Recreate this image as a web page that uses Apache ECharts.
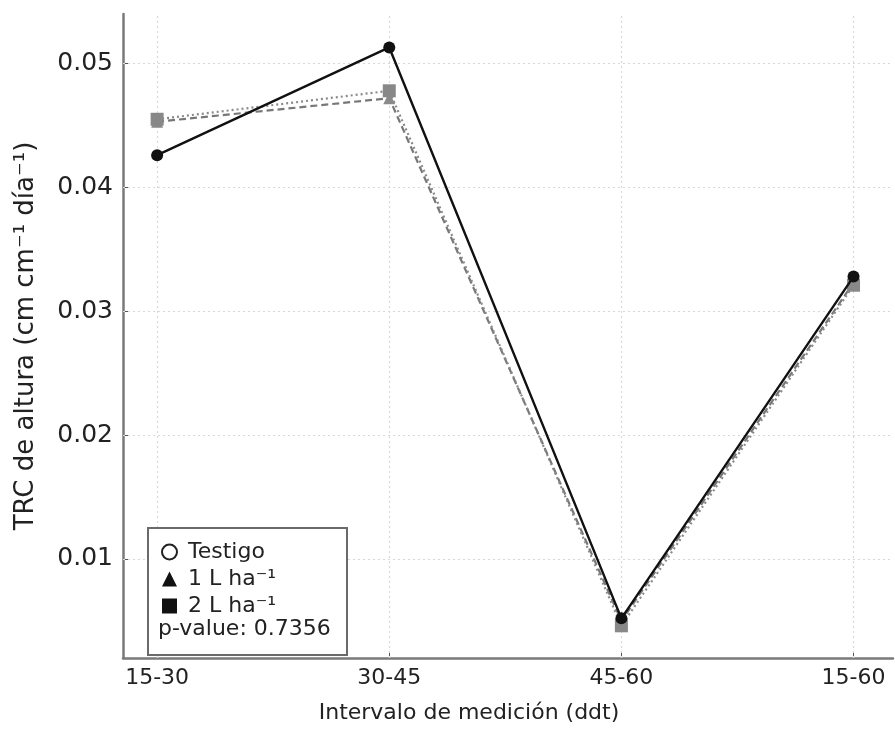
<!DOCTYPE html>
<html><head><meta charset="utf-8">
<script src="https://cdn.jsdelivr.net/npm/echarts@6/dist/echarts.min.js"></script>
<style>html,body{margin:0;padding:0;background:#fff}#c{width:895px;height:729px}</style>
</head><body><div id="c"></div>
<script>
const categories = ['15-30', '30-45', '45-60', '15-60'];
const testigo = [0.0426, 0.0513, 0.0052, 0.0328];
const unoL = [0.0453, 0.0472, 0.0050, 0.0323];
const dosL = [0.0455, 0.0478, 0.0046, 0.0321];
const yTicks = [0.01, 0.02, 0.03, 0.04, 0.05];
const xTicks = [0, 1, 2, 3];
const seriesNames = ['Testigo', '1 L ha\u207B\u00B9', '2 L ha\u207B\u00B9'];
const pValueText = 'p-value: 0.7356';

const toPairs = arr => arr.map((v, i) => [i, v]);
const font = 'DejaVu Sans';
const chart = echarts.init(document.getElementById('c'));
chart.setOption({
  animation: false,
  backgroundColor: '#fff',
  grid: { left: 123, right: 2, top: 14, bottom: 70 },
  xAxis: {
    type: 'value', min: -0.147, max: 3.17,
    axisLine: { show: true, onZero: false, lineStyle: { color: '#7a7a7a', width: 2.5 } },
    axisTick: { show: true, inside: true, length: 5, customValues: xTicks, lineStyle: { color: '#555' } },
    axisLabel: { customValues: xTicks, formatter: v => categories[Math.round(v)], color: '#222', fontSize: 22, fontFamily: font, margin: 9 },
    splitLine: { show: false },
    name: 'Intervalo de medición (ddt)', nameLocation: 'middle', nameGap: 44,
    nameTextStyle: { color: '#222', fontSize: 22, fontFamily: font, padding: [0, 78, 0, 0] }
  },
  yAxis: {
    type: 'value', min: 0.002, max: 0.054,
    axisLine: { show: true, onZero: false, lineStyle: { color: '#7a7a7a', width: 2.5 } },
    axisTick: { show: true, inside: true, length: 5, customValues: yTicks, lineStyle: { color: '#555' } },
    axisLabel: { customValues: yTicks, formatter: v => v.toFixed(2), color: '#222', fontSize: 25, fontFamily: font, margin: 10 },
    splitLine: { show: false },
    name: 'TRC de altura (cm cm\u207B\u00B9 día\u207B\u00B9)', nameLocation: 'middle', nameGap: 84,
    nameTextStyle: { color: '#222', fontSize: 26, fontFamily: font }
  },
  legend: {
    orient: 'vertical', left: 156, top: 536, itemGap: 5, itemWidth: 15, itemHeight: 15,
    textStyle: { fontSize: 22, fontFamily: font, color: '#222', padding: [0, 0, 0, 6] },
    z: 10,
    data: [
      { name: seriesNames[0], icon: 'emptyCircle', itemStyle: { color: '#222', borderColor: '#222', borderWidth: 1.5 } },
      { name: seriesNames[1], icon: 'triangle', itemStyle: { color: '#111' } },
      { name: seriesNames[2], icon: 'rect', itemStyle: { color: '#111' } }
    ]
  },
  graphic: [
    { type: 'rect', z: 5, shape: { x: 148, y: 528, width: 199, height: 127 }, style: { fill: '#fff', stroke: '#6a6a6a', lineWidth: 2 } },
    { type: 'text', z: 10, left: 158, top: 618, style: { text: pValueText, font: '22px "DejaVu Sans"', fill: '#222' } }
  ],
  series: [
    {
      name: 'grid', type: 'line', data: [], silent: true, z: 0,
      markLine: {
        silent: true, symbol: 'none', label: { show: false }, z: 1,
        lineStyle: { color: '#d8d8d8', type: [2, 3], width: 1.2 },
        data: yTicks.map(v => ({ yAxis: v })).concat(xTicks.map(v => ({ xAxis: v })))
      }
    },
    {
      name: seriesNames[1], type: 'line', data: toPairs(unoL), z: 2,
      symbol: 'triangle', symbolSize: 12,
      itemStyle: { color: '#8a8a8a', borderWidth: 0 },
      lineStyle: { color: '#777', width: 2.2, type: [7, 4] }
    },
    {
      name: seriesNames[2], type: 'line', data: toPairs(dosL), z: 3,
      symbol: 'rect', symbolSize: 13,
      itemStyle: { color: '#888', borderWidth: 0 },
      lineStyle: { color: '#8a8a8a', width: 2.2, type: [2, 3] }
    },
    {
      name: seriesNames[0], type: 'line', data: toPairs(testigo), z: 4,
      symbol: 'circle', symbolSize: 12,
      itemStyle: { color: '#111', borderWidth: 0 },
      lineStyle: { color: '#111', width: 2.4 }
    }
  ]
});
</script></body></html>
